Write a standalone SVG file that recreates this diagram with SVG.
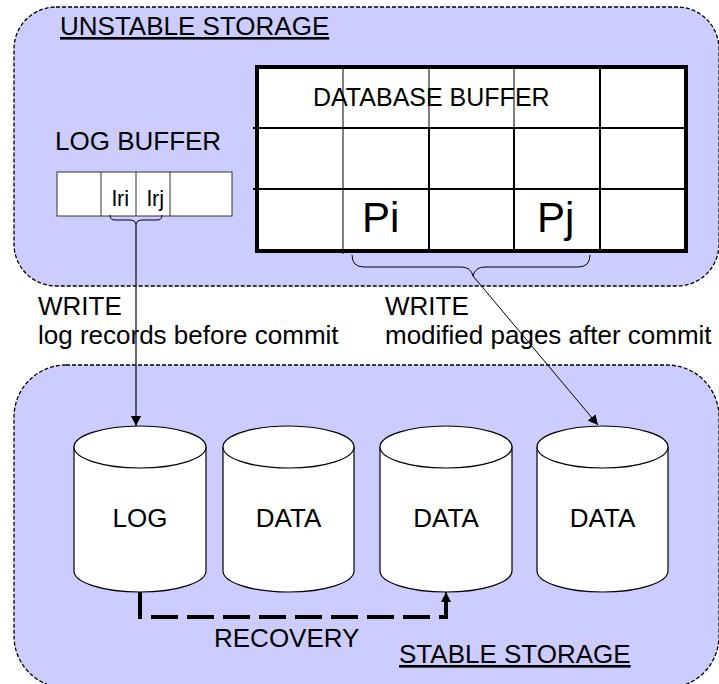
<svg xmlns="http://www.w3.org/2000/svg" width="719" height="684" viewBox="0 0 719 684">
<style>
text{font-family:"Liberation Sans",Arial,sans-serif;fill:#000}
.t{font-size:26px}
.area{fill:#CCCCFF;stroke:#000;stroke-width:1.3;stroke-dasharray:4 2}
.cell{fill:#fff;stroke:#333;stroke-width:1}
.cyl{fill:#fff;stroke:#000;stroke-width:1.2}
.thin{stroke:#000;stroke-width:1;fill:none}
.mid{stroke:#000;stroke-width:2;fill:none}
</style>
<defs>
<marker id="ah" viewBox="0 0 10 10" refX="10" refY="5" markerWidth="10" markerHeight="10" markerUnits="userSpaceOnUse" orient="auto">
<path d="M0,0 L10,5 L0,10 Z" fill="#000"/>
</marker>
<marker id="ah2" viewBox="0 0 10 10" refX="10" refY="5" markerWidth="11" markerHeight="10" markerUnits="userSpaceOnUse" orient="auto">
<path d="M0,0 L10,5 L0,10 Z" fill="#000"/>
</marker>
</defs>
<g id="unstable-storage">
<rect class="area" x="14" y="7" width="705" height="279" rx="42" ry="42"/>
<text class="t" x="60" y="35" text-decoration="underline">UNSTABLE STORAGE</text>
</g>
<g id="stable-storage">
<rect class="area" x="14" y="365" width="705" height="323" rx="52" ry="52"/>
<text class="t" x="399" y="663" text-decoration="underline">STABLE STORAGE</text>
</g>
<g id="log-buffer">
<text class="t" x="55" y="150">LOG BUFFER</text>
<rect class="cell" x="57" y="172" width="175" height="44"/>
<line class="cell" x1="101" y1="172" x2="101" y2="216"/>
<line class="cell" x1="136" y1="172" x2="136" y2="216"/>
<line class="cell" x1="170" y1="172" x2="170" y2="216"/>
<text x="112" y="206" font-size="22">lri</text>
<text x="147" y="206" font-size="22">lrj</text>
<path class="thin" d="M110,215 Q110,220 115,220 H131 Q135,220 136,224 Q137,220 141,220 H157 Q162,220 162,215" stroke="#333"/>
</g>
<g id="database-buffer">
<rect x="257" y="67" width="429" height="184" fill="#fff"/>
<text x="313" y="106" font-size="25">DATABASE BUFFER</text>
<line class="mid" x1="253" y1="128" x2="686" y2="128"/>
<line class="mid" x1="253" y1="189" x2="686" y2="189"/>
<line class="thin" x1="343" y1="67" x2="343" y2="254"/>
<line class="thin" x1="429" y1="67" x2="429" y2="128"/>
<line class="thin" x1="514" y1="67" x2="514" y2="128"/>
<line class="mid" x1="429" y1="128" x2="429" y2="251"/>
<line class="mid" x1="514" y1="128" x2="514" y2="251"/>
<line class="mid" x1="600" y1="67" x2="600" y2="251"/>
<rect x="257" y="67" width="429" height="184" fill="none" stroke="#000" stroke-width="4"/>
<text x="362" y="232" font-size="42">Pi</text>
<text x="537" y="232" font-size="42">Pj</text>
<path class="thin" d="M352,255 Q352,267 364,267 H461 Q471,267 473,276 Q475,267 485,267 H578 Q590,267 590,255"/>
</g>
<g id="log-disk">
<path class="cyl" d="M74,447 A66,21 0 0 1 206,447 V571 A66,21 0 0 1 74,571 Z"/>
<path class="cyl" fill="none" d="M74,447 A66,21 0 0 0 206,447"/>
<text class="t" x="140" y="527" text-anchor="middle">LOG</text>
</g>
<g id="data-disk-1">
<path class="cyl" d="M223,447 A65.5,21 0 0 1 354,447 V571 A65.5,21 0 0 1 223,571 Z"/>
<path class="cyl" fill="none" d="M223,447 A65.5,21 0 0 0 354,447"/>
<text class="t" x="288.5" y="527" text-anchor="middle">DATA</text>
</g>
<g id="data-disk-2">
<path class="cyl" d="M380,447 A66,21 0 0 1 512,447 V571 A66,21 0 0 1 380,571 Z"/>
<path class="cyl" fill="none" d="M380,447 A66,21 0 0 0 512,447"/>
<text class="t" x="446" y="527" text-anchor="middle">DATA</text>
</g>
<g id="data-disk-3">
<path class="cyl" d="M537,447 A65.5,21 0 0 1 668,447 V571 A65.5,21 0 0 1 537,571 Z"/>
<path class="cyl" fill="none" d="M537,447 A65.5,21 0 0 0 668,447"/>
<text class="t" x="602.5" y="527" text-anchor="middle">DATA</text>
</g>
<g id="connectors">
<line x1="136" y1="224" x2="136" y2="426" stroke="#333" stroke-width="1.5" marker-end="url(#ah)"/>
<line x1="473" y1="276" x2="598" y2="425" stroke="#000" stroke-width="1" marker-end="url(#ah)"/>
<path d="M140,592 V617 H446 V600" fill="none" stroke="#000" stroke-width="4" stroke-dasharray="27 9"/>
<line x1="446" y1="603" x2="446" y2="592" stroke="#000" stroke-width="2" marker-end="url(#ah2)"/>
<text class="t" x="38" y="315">WRITE</text>
<text class="t" x="38" y="344">log records before commit</text>
<text class="t" x="385" y="315">WRITE</text>
<text class="t" x="385" y="344">modified pages after commit</text>
<text class="t" x="214" y="647">RECOVERY</text>
</g>
</svg>
